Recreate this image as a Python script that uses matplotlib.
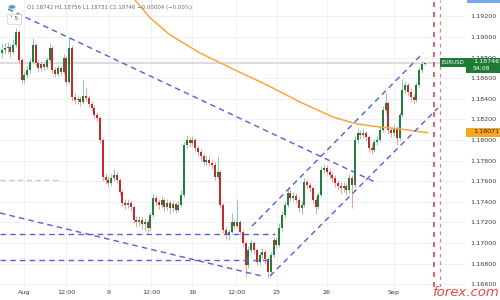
import matplotlib
matplotlib.use('Agg')
import matplotlib.pyplot as plt
from matplotlib.patches import Rectangle

# ---------------- data (EURUSD 4H) ----------------
first_open = 1.1884
closes = [1.1887, 1.1889, 1.1890, 1.1885, 1.1892, 1.1905, 1.1878, 1.1858, 1.1863, 1.1868,
          1.1876, 1.1892, 1.1875, 1.1870, 1.1874, 1.1871, 1.1878, 1.1889, 1.1868, 1.1864,
          1.1870, 1.1866, 1.1880, 1.1856, 1.1889, 1.1842, 1.1839, 1.1840, 1.1837, 1.1843,
          1.1841, 1.1835, 1.1831, 1.1824, 1.1821, 1.1800, 1.1764, 1.1761, 1.1758, 1.1763,
          1.1766, 1.1761, 1.1750, 1.1739, 1.1737, 1.1739, 1.1735, 1.1722, 1.1720, 1.1722,
          1.1718, 1.1720, 1.1715, 1.1727, 1.1744, 1.1740, 1.1737, 1.1742, 1.1735, 1.1739,
          1.1734, 1.1738, 1.1732, 1.1737, 1.1747, 1.1795, 1.1800, 1.1797, 1.1800, 1.1792,
          1.1788, 1.1784, 1.1779, 1.1781, 1.1778, 1.1776, 1.1764, 1.1769, 1.1737, 1.1713,
          1.1708, 1.1711, 1.1720, 1.1717, 1.1720, 1.1711, 1.1700, 1.1679, 1.1693, 1.1700,
          1.1693, 1.1682, 1.1688, 1.1691, 1.1684, 1.1672, 1.1688, 1.1703, 1.1698, 1.1715,
          1.1727, 1.1737, 1.1749, 1.1744, 1.1746, 1.1742, 1.1734, 1.1737, 1.1759, 1.1756,
          1.1753, 1.1742, 1.1735, 1.1747, 1.1771, 1.1773, 1.1769, 1.1766, 1.1763, 1.1758,
          1.1755, 1.1753, 1.1755, 1.1751, 1.1763, 1.1756, 1.1800, 1.1807, 1.1805, 1.1807,
          1.1803, 1.1792, 1.1790, 1.1798, 1.1800, 1.1810, 1.1829, 1.1836, 1.1810, 1.1807,
          1.1812, 1.1802, 1.1824, 1.1849, 1.1853, 1.1847, 1.1842, 1.1839, 1.1853, 1.1868,
          1.1874, 1.18746]
highs = [1.1893, 1.1894, 1.1895, 1.1893, 1.1898, 1.1909, 1.1907, 1.1880, 1.1867, 1.1872,
         1.1880, 1.1899, 1.1894, 1.1878, 1.1877, 1.1876, 1.1881, 1.1894, 1.1891, 1.1871,
         1.1873, 1.1872, 1.1883, 1.1882, 1.1900, 1.1892, 1.1846, 1.1844, 1.1843, 1.1858,
         1.1850, 1.1844, 1.1838, 1.1834, 1.1827, 1.1823, 1.1802, 1.1768, 1.1765, 1.1767,
         1.1772, 1.1769, 1.1763, 1.1752, 1.1743, 1.1743, 1.1742, 1.1737, 1.1726, 1.1726,
         1.1725, 1.1724, 1.1723, 1.1730, 1.1749, 1.1747, 1.1743, 1.1746, 1.1744, 1.1743,
         1.1742, 1.1741, 1.1740, 1.1741, 1.1751, 1.1798, 1.1805, 1.1803, 1.1804, 1.1802,
         1.1795, 1.1791, 1.1786, 1.1784, 1.1784, 1.1781, 1.1779, 1.1784, 1.1771, 1.1739,
         1.1716, 1.1714, 1.1729, 1.1723, 1.1743, 1.1722, 1.1713, 1.1702, 1.1697, 1.1704,
         1.1702, 1.1695, 1.1691, 1.1695, 1.1693, 1.1686, 1.1691, 1.1706, 1.1706, 1.1719,
         1.1731, 1.1741, 1.1754, 1.1752, 1.1750, 1.1749, 1.1745, 1.1741, 1.1763, 1.1762,
         1.1759, 1.1755, 1.1745, 1.1750, 1.1775, 1.1777, 1.1776, 1.1772, 1.1769, 1.1766,
         1.1761, 1.1759, 1.1759, 1.1758, 1.1767, 1.1766, 1.1804, 1.1811, 1.1810, 1.1811,
         1.1809, 1.1805, 1.1796, 1.1801, 1.1804, 1.1814, 1.1833, 1.1846, 1.1838, 1.1813,
         1.1816, 1.1814, 1.1827, 1.1859, 1.1857, 1.1855, 1.1850, 1.1845, 1.1856, 1.1871,
         1.1877, 1.1876]
lows = [1.1880, 1.1883, 1.1884, 1.1881, 1.1883, 1.1890, 1.1875, 1.1854, 1.1855, 1.1860,
        1.1865, 1.1874, 1.1872, 1.1866, 1.1867, 1.1868, 1.1869, 1.1876, 1.1865, 1.1861,
        1.1862, 1.1863, 1.1864, 1.1852, 1.1854, 1.1838, 1.1835, 1.1835, 1.1833, 1.1835,
        1.1838, 1.1832, 1.1828, 1.1821, 1.1818, 1.1797, 1.1760, 1.1757, 1.1754, 1.1755,
        1.1760, 1.1758, 1.1747, 1.1736, 1.1733, 1.1734, 1.1731, 1.1719, 1.1716, 1.1717,
        1.1714, 1.1712, 1.1710, 1.1712, 1.1725, 1.1737, 1.1733, 1.1734, 1.1731, 1.1732,
        1.1728, 1.1731, 1.1729, 1.1730, 1.1735, 1.1745, 1.1792, 1.1793, 1.1794, 1.1789,
        1.1784, 1.1780, 1.1776, 1.1776, 1.1775, 1.1772, 1.1761, 1.1762, 1.1734, 1.1710,
        1.1704, 1.1703, 1.1709, 1.1714, 1.1715, 1.1708, 1.1697, 1.1667, 1.1676, 1.1690,
        1.1689, 1.1679, 1.1679, 1.1685, 1.1680, 1.1666, 1.1670, 1.1686, 1.1695, 1.1696,
        1.1712, 1.1724, 1.1735, 1.1741, 1.1741, 1.1739, 1.1730, 1.1728, 1.1735, 1.1752,
        1.1750, 1.1739, 1.1728, 1.1733, 1.1745, 1.1768, 1.1766, 1.1762, 1.1759, 1.1754,
        1.1751, 1.1748, 1.1750, 1.1747, 1.1749, 1.1734, 1.1753, 1.1797, 1.1801, 1.1802,
        1.1799, 1.1788, 1.1786, 1.1788, 1.1795, 1.1798, 1.1808, 1.1826, 1.1806, 1.1803,
        1.1804, 1.1795, 1.1800, 1.1822, 1.1846, 1.1843, 1.1838, 1.1835, 1.1837, 1.1851,
        1.1865, 1.1873]
opens = [first_open] + closes[:-1]

# 200-period moving average (orange)
sma_idx = [47.5, 52.9, 60.0, 70.7, 83.2, 94.6, 106.4, 118.2, 126.8, 135.0, 142.1, 152.1]
sma_val = [1.19359, 1.19185, 1.19020, 1.18845, 1.18680, 1.18534, 1.18369, 1.18223,
           1.18155, 1.18126, 1.18107, 1.18071]

# drawn trend lines: (start index, start price, end index, end price)
trend_long = (2.14, 1.19272, 133.2, 1.17592)
trend_low_diag = (-0.71, 1.17291, 92.9, 1.16679)
level_1 = (-0.71, 1.17087, 97.5, 1.17087)
level_2 = (-0.71, 1.16835, 95.0, 1.16835)
level_grey = (-0.71, 1.17612, 20.0, 1.17612)
chan_upper = (89.3, 1.17165, 150.4, 1.18845)
chan_lower = (95.7, 1.16679, 155.7, 1.18311)

ytick_vals = [1.166, 1.168, 1.170, 1.172, 1.174, 1.176, 1.178, 1.180,
              1.182, 1.184, 1.186, 1.188, 1.190, 1.192]
ytick_labels = ['%.5f' % v for v in ytick_vals]
xtick_pos = [7.9, 22.9, 38.2, 53.2, 67.9, 83.6, 98.2, 116.0, 140.0]
xtick_labels = ['Aug', '12:00', '9', '12:00', '16', '12:00', '23', '26', 'Sep']
last_price = 1.18746
sma_last = 1.18071
session_marks = [154.3, 156.4]

# ---------------- figure ----------------
W, H = 500, 300
fig = plt.figure(figsize=(5, 3), dpi=100)
fig.patch.set_facecolor('white')
ax = fig.add_axes([0, 1 - 287 / H, 466 / W, 287 / H])
ax.set_facecolor('white')
ax.set_xlim(-0.714, 165.7)
ax.set_ylim(1.16573, 1.19359)
for s in ax.spines.values():
    s.set_visible(False)

# grid
for v in ytick_vals:
    ax.axhline(v, color='#f0f1f4', lw=0.7, zorder=0)
for p in xtick_pos:
    ax.axvline(p, color='#f0f1f4', lw=0.7, zorder=0)

# last price line
ax.axhline(last_price, color='#d9d9dc', lw=1.3, zorder=1)

# candles
up_body, dn_body = '#23803c', '#c42a2a'
up_wick, dn_wick = '#86cfae', '#f0a0a0'
idx = list(range(len(closes)))
for i, o, h, l, c in zip(idx, opens, highs, lows, closes):
    up = c >= o
    ax.vlines(i, l, h, color=up_wick if up else dn_wick, lw=0.7, zorder=2)
    lo, hi = min(o, c), max(o, c)
    ax.bar(i, max(hi - lo, 0.00004), bottom=lo, width=0.75,
           color=up_body if up else dn_body, lw=0, zorder=3)

# moving average
ax.plot(sma_idx, sma_val, color='#f5a93c', lw=1.1, zorder=4, solid_capstyle='round')

# trend lines
blue = '#5c5cd8'
for ln in [trend_long, trend_low_diag, level_1, level_2, chan_upper, chan_lower]:
    ax.plot([ln[0], ln[2]], [ln[1], ln[3]], color=blue, lw=1.0,
            dashes=(4, 3), zorder=5)
ax.plot([level_grey[0], level_grey[2]], [level_grey[1], level_grey[3]],
        color='#c4c4d4', lw=0.9, dashes=(4, 3), zorder=5)

# session markers
ax.axvline(session_marks[0], color='#d34a4a', lw=1.2, dashes=(3, 3), zorder=5)
ax.axvline(session_marks[1], color='#e08585', lw=0.9, dashes=(3, 3), zorder=5)

# axes ticks
ax.yaxis.tick_right()
ax.set_yticks(ytick_vals)
ax.set_yticklabels(ytick_labels, fontsize=4.6, color='#3c3c3c')
ax.tick_params(axis='y', length=0, pad=3)
ax.set_xticks(xtick_pos)
ax.set_xticklabels(xtick_labels, fontsize=4.6, color='#3c3c3c')
ax.tick_params(axis='x', length=0, pad=2.5)


def fig_rect(x0, y0, x1, y1, color, z=10):
    fig.add_artist(Rectangle((x0 / W, 1 - y1 / H), (x1 - x0) / W, (y1 - y0) / H,
                             transform=fig.transFigure, facecolor=color,
                             edgecolor='none', zorder=z))


# price labels on the scale
fig_rect(440, 58, 466, 67, '#1f7a35')
fig.text(453 / W, 1 - 62.5 / H, 'EURUSD', fontsize=4.0, color='white',
         ha='center', va='center', zorder=11)
fig_rect(466, 57.5, 500, 73, '#1f7a35')
fig.text(473 / W, 1 - 61.5 / H, '%.5f' % last_price, fontsize=4.6, color='white',
         ha='left', va='center', zorder=11)
fig.text(473 / W, 1 - 69 / H, '54:08', fontsize=4.4, color='white',
         ha='left', va='center', zorder=11)
fig_rect(466, 127.5, 500, 136.5, '#f5a623')
fig.text(473 / W, 1 - 132 / H, '%.5f' % sma_last, fontsize=4.6, color='#2a2a2a',
         ha='left', va='center', zorder=11)
fig_rect(467, 0, 500, 2.5, '#7aa6f0')

# legend line top-left
fig.add_artist(plt.Circle((12 / W, 1 - 7 / H), 3.5 / W, transform=fig.transFigure,
                          facecolor='#2ab0a0', edgecolor='#cfd8dc', lw=0.8, zorder=11))
fig.text(27 / W, 1 - 8 / H,
         'O1.18742 H1.18756 L1.18731 C1.18746 \u22120.00004 (\u22120.00%)',
         fontsize=3.9, color='#6a6a6a', ha='left', va='center', zorder=11)
fig.add_artist(Rectangle((7 / W, 1 - 24 / H), 14 / W, 10 / H, transform=fig.transFigure,
                         facecolor='white', edgecolor='#d0d0d0', lw=0.5, zorder=11))
fig.text(14 / W, 1 - 19 / H, '\u02c5 5', fontsize=4.0, color='#444444',
         ha='center', va='center', zorder=12)

# watermark
fig.text(465 / W, 1 - 292 / H, 'forex.com', fontsize=9.5, style='italic',
         color='#e8352b', ha='center', va='center', zorder=12, alpha=0.9)

fig.savefig('out.png', dpi=100, facecolor='white')
